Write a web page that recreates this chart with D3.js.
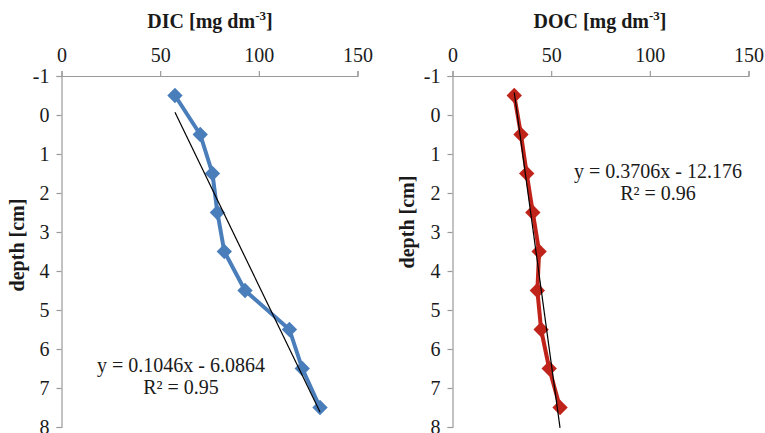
<!DOCTYPE html>
<html>
<head>
<meta charset="utf-8">
<script src="https://cdn.jsdelivr.net/npm/d3@7"></script>
<style>
  body { margin: 0; background: #fff; }
  text { font-family: "Liberation Serif", "Times New Roman", serif; fill: #1a1a1a; }
</style>
</head>
<body>
<div id="chart"></div>
<script>
// depth of each sample (cm)
var depths = [-0.5, 0.5, 1.5, 2.5, 3.5, 4.5, 5.5, 6.5, 7.5];
// concentrations
var dicValues = [57.5, 70.3, 76.5, 79, 82.5, 93, 115.5, 122, 131];
var docValues = [31.3, 34.7, 37.6, 40.7, 43.9, 43, 44.9, 49, 54.5];
// trendlines as printed on the chart
var dicFit = {slope: 0.1046, icpt: -6.0864, eq: "y = 0.1046x - 6.0864", r2: "R² = 0.95"};
var docFit = {slope: 0.3706, icpt: -12.176, eq: "y = 0.3706x - 12.176", r2: "R² = 0.96"};
var xTicks = [0, 50, 100, 150];
var yTicks = [-1, 0, 1, 2, 3, 4, 5, 6, 7, 8];

var svg = d3.select("#chart").append("svg")
    .attr("width", 765)
    .attr("height", 433);

// clip so the DOC trendline runs off the bottom like in the original
svg.append("clipPath").attr("id", "pageclip")
  .append("rect").attr("width", 765).attr("height", 433);

function panel(opt) {
  var x = d3.scaleLinear().domain([0, 150]).range([opt.left, opt.left + 296]);
  var y = d3.scaleLinear().domain([-1, 8]).range([76, 427]);

  var g = svg.append("g");

  // x axis on top
  var xa = g.append("g")
      .attr("transform", "translate(0," + y(-1) + ")")
      .call(d3.axisTop(x).tickValues(xTicks).tickSize(5).tickPadding(9));
  xa.selectAll("text").style("font-size", "20px");

  var ya = g.append("g")
      .attr("transform", "translate(" + x(0) + ",0)")
      .call(d3.axisLeft(y).tickValues(yTicks).tickSize(5).tickPadding(7)
        .tickFormat(function(d) { return String(d); })); // plain hyphen like excel
  ya.selectAll("text").style("font-size", "20px").attr("dy", "0.33em");

  g.selectAll(".domain, .tick line").attr("stroke", "#9a9a9a").attr("stroke-width", 1.2);

  // title
  g.append("text")
      .attr("x", opt.titleX)
      .attr("y", 28)
      .attr("text-anchor", "middle")
      .style("font-size", "20px")
      .style("font-weight", "bold")
      .html(opt.title + " [mg dm<tspan dy='-8' font-size='13px'>-3</tspan><tspan dy='8'>]</tspan>");

  // y label
  g.append("text")
      .attr("transform", "translate(" + opt.ylabX + "," + opt.ylabY + ") rotate(-90)")
      .attr("text-anchor", "middle")
      .style("font-size", "20px")
      .style("font-weight", "bold")
      .text("depth [cm]");

  var pts = depths.map(function(d, i) { return {x: opt.values[i], y: d}; });

  g.append("path")
      .datum(pts)
      .attr("fill", "none")
      .attr("stroke", opt.color)
      .attr("stroke-width", 4)
      .attr("stroke-linejoin", "round")
      .attr("d", d3.line().x(function(d) { return x(d.x); }).y(function(d) { return y(d.y); }));

  g.selectAll(".mk")
    .data(pts)
    .enter().append("path")
      .attr("class", "mk")
      .attr("transform", function(d) { return "translate(" + x(d.x) + "," + y(d.y) + ")"; })
      .attr("d", d3.symbol().type(d3.symbolDiamond2).size(150))
      .attr("fill", opt.color);

  // linear trendline over the x range of the data
  var xmin = d3.min(opt.values), xmax = d3.max(opt.values);
  var fit = opt.fit;
  g.append("line")
      .attr("clip-path", "url(#pageclip)")
      .attr("x1", x(xmin)).attr("y1", y(fit.slope * xmin + fit.icpt))
      .attr("x2", x(xmax)).attr("y2", y(fit.slope * xmax + fit.icpt))
      .attr("stroke", "#000")
      .attr("stroke-width", 1.2);

  g.append("text")
      .attr("x", opt.eqX).attr("y", opt.eqY)
      .attr("text-anchor", "middle")
      .style("font-size", "20px")
      .text(fit.eq);
  g.append("text")
      .attr("x", opt.eqX).attr("y", opt.eqY + 22)
      .attr("text-anchor", "middle")
      .style("font-size", "20px")
      .text(fit.r2);
}

panel({left: 61.5, title: "DIC", titleX: 210, values: dicValues, fit: dicFit,
       color: "#4a7ebb", ylabX: 24, ylabY: 245, eqX: 181, eqY: 372});
panel({left: 452.5, title: "DOC", titleX: 600, values: docValues, fit: docFit,
       color: "#c0231a", ylabX: 414, ylabY: 222, eqX: 658, eqY: 178});
</script>
</body>
</html>
